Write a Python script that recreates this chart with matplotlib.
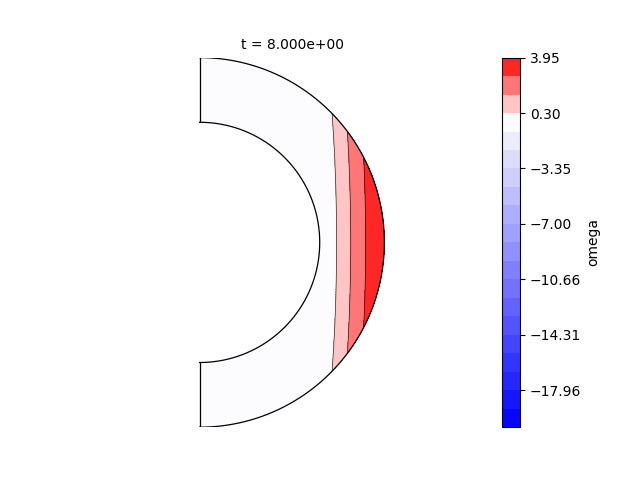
import numpy as np
import matplotlib
matplotlib.use("Agg")
import matplotlib.pyplot as plt
from matplotlib.colors import TwoSlopeNorm

# Shell geometry
r_inner = 0.65
r_outer = 1.0

# omega profile along the equator (cylindrical radius s -> omega)
s_eq = [0.00, 0.65, 0.70, 0.742, 0.818, 0.898, 1.00]
omega_eq = [0.00, 0.00, 0.00, 0.30, 1.52, 2.73, 3.95]
# slight outward bulge of contours toward the equator
z_shift = 0.05

# contour levels (data min/max)
omega_min = -20.393
omega_max = 3.95
n_levels = 21

title_text = "t = 8.000e+00"
cbar_label = "omega"

# grid on the half annulus
r = np.linspace(r_inner, r_outer, 80)
phi = np.linspace(-np.pi / 2, np.pi / 2, 361)
R, P = np.meshgrid(r, phi)
X = R * np.cos(P)
Y = R * np.sin(P)
S_eff = X + z_shift * Y ** 2
OMEGA = np.interp(S_eff, s_eq, omega_eq)

levels = np.linspace(omega_min, omega_max, n_levels)
norm = TwoSlopeNorm(vmin=omega_min, vcenter=0.0, vmax=omega_max)

fig, ax = plt.subplots(figsize=(6.4, 4.8), dpi=100)
cf = ax.contourf(X, Y, OMEGA, levels=levels, cmap="bwr", norm=norm)
ax.contour(X, Y, OMEGA, levels=levels, colors="k", linewidths=0.5, alpha=0.8)

# boundaries
th = np.linspace(-np.pi / 2, np.pi / 2, 400)
ax.plot(r_outer * np.cos(th), r_outer * np.sin(th), color="k", lw=0.9)
ax.plot(r_inner * np.cos(th), r_inner * np.sin(th), color="k", lw=0.9)
ax.plot([0, 0], [r_inner, r_outer], color="k", lw=0.9)
ax.plot([0, 0], [-r_inner, -r_outer], color="k", lw=0.9)

ax.set_xlim(-0.5, 1.5)
ax.set_ylim(-1, 1)
ax.set_aspect("equal")
ax.axis("off")
ax.set_title(title_text, fontsize=10)

cb = fig.colorbar(cf, ax=ax)
cb.set_label(cbar_label)

fig.savefig("out.png", dpi=100)
